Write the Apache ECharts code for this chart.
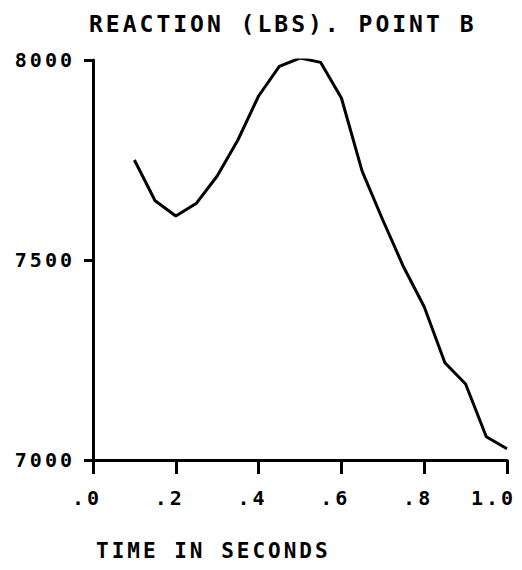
<!DOCTYPE html>
<html>
<head>
<meta charset="utf-8">
<script src="https://cdn.jsdelivr.net/npm/echarts@6/dist/echarts.min.js"></script>
<style>
	html, body { margin: 0; padding: 0; background: #fff; }
	#chart { width: 522px; height: 570px; }
	/* plotter lettering is widely spaced */
	#chart text { letter-spacing: 3px; }
</style>
</head>
<body>
<div id="chart"></div>
<script>
var times = [0.1, 0.15, 0.2, 0.25, 0.3, 0.35, 0.4, 0.45, 0.5, 0.55, 0.6, 0.65, 0.7, 0.75, 0.8, 0.85, 0.9, 0.95, 1.0];
var reaction = [7750, 7648, 7610, 7642, 7710, 7800, 7910, 7984, 8005, 7994, 7905, 7722, 7600, 7483, 7383, 7243, 7190, 7058, 7028];
var xTickLabels = ['.0', '.2', '.4', '.6', '.8', '1.0'];
var yTickLabels = ['7000', '7500', '8000'];

var font = 'DejaVu Sans Mono';
var points = [];
for (var i = 0; i < times.length; i++) {
	points.push([times[i], reaction[i]]);
}

var myChart = echarts.init(document.getElementById('chart'), null, { renderer: 'svg' });
var option = {
	animation: false,
	backgroundColor: '#fff',
	title: [{
		text: 'REACTION (LBS). POINT B',
		left: 89,
		top: 12,
		padding: 0,
		textStyle: { fontFamily: font, fontWeight: 'bold', fontSize: 23, color: '#000' }
	}, {
		text: 'TIME IN SECONDS',
		left: 96,
		top: 540,
		padding: 0,
		textStyle: { fontFamily: font, fontWeight: 'bold', fontSize: 21, color: '#000' }
	}],
	grid: {
		left: 93,
		right: 15,
		top: 60,
		bottom: 110,
		containLabel: false
	},
	xAxis: {
		type: 'value',
		min: 0,
		max: 1,
		interval: 0.2,
		splitLine: { show: false },
		axisLine: { show: true, lineStyle: { color: '#000', width: 3 } },
		axisTick: { show: true, length: 14, lineStyle: { color: '#000', width: 3 } },
		axisLabel: {
			margin: 28,
			align: 'right',
			padding: [0, -9, 0, 0],
			fontFamily: font,
			fontWeight: 'bold',
			fontSize: 20,
			color: '#000',
			formatter: function (v) {
				return xTickLabels[Math.round(v / 0.2)];
			}
		}
	},
	yAxis: {
		type: 'value',
		min: 7000,
		max: 8000,
		interval: 500,
		splitLine: { show: false },
		axisLine: { show: true, lineStyle: { color: '#000', width: 3 } },
		axisTick: { show: true, length: 9, lineStyle: { color: '#000', width: 3 } },
		axisLabel: {
			margin: 18,
			fontFamily: font,
			fontWeight: 'bold',
			fontSize: 20,
			color: '#000',
			formatter: function (v) {
				return yTickLabels[Math.round((v - 7000) / 500)];
			}
		}
	},
	series: [{
		type: 'line',
		data: points,
		showSymbol: false,
		symbol: 'none',
		smooth: false,
		lineStyle: { color: '#000', width: 3 }
	}]
};
myChart.setOption(option);
</script>
</body>
</html>
